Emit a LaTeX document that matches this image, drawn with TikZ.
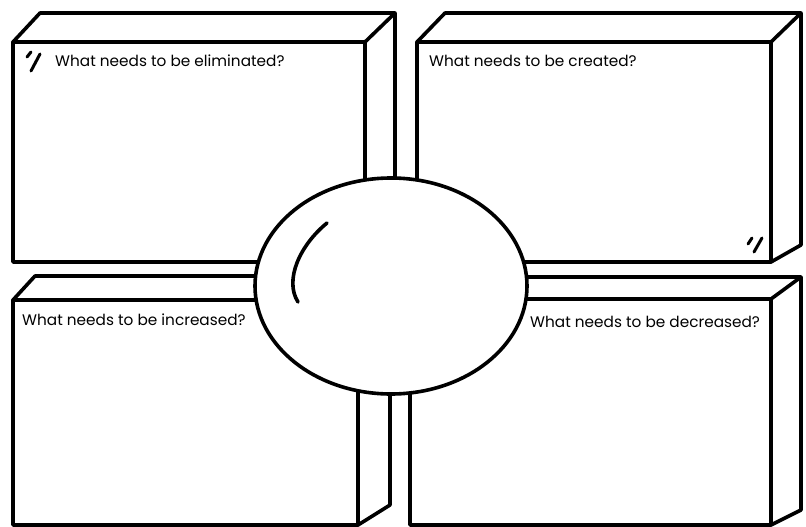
\documentclass[tikz,border=0pt]{standalone}
\usepackage{fontspec}
\setmainfont{Poppins}
\usetikzlibrary{positioning}

\tikzset{
    face/.style={line width=3.6pt, line join=round, line cap=round},
    slab/.style={face, fill=white},
    question/.style={font=\fontsize{15.3}{17}\selectfont, inner sep=0pt, anchor=west},
    tick/.style={line width=3pt, line cap=round},
}

\begin{document}
\begin{tikzpicture}[x=1pt, y=-1pt]
    \useasboundingbox (0,0) rectangle (806,527);

    % front corners of the four slabs
    \coordinate (elimA) at (13,42);   \coordinate (elimB) at (365,42);
    \coordinate (elimC) at (365,262); \coordinate (elimD) at (13,262);
    \coordinate (creaA) at (417,42);  \coordinate (creaB) at (771,42);
    \coordinate (creaC) at (771,262); \coordinate (creaD) at (417,262);
    \coordinate (incrA) at (13,300);  \coordinate (incrB) at (358,300);
    \coordinate (incrC) at (358,525); \coordinate (incrD) at (13,525);
    \coordinate (decrA) at (410,299); \coordinate (decrB) at (771,299);
    \coordinate (decrC) at (771,525); \coordinate (decrD) at (410,525);

    % slab: eliminated
    \draw[slab] (elimA) -- (40,13) -- (395,13) -- (395,250) -- (elimC) -- (elimD) -- cycle;
    \draw[face] (elimA) -- (elimB) -- (elimC) (elimB) -- (395,13);

    % slab: created
    \draw[slab] (creaA) -- (445,13) -- (801,13) -- (801,245) -- (creaC) -- (creaD) -- cycle;
    \draw[face] (creaA) -- (creaB) -- (creaC) (creaB) -- (801,13);

    % slab: increased
    \draw[slab] (incrA) -- (35,276) -- (390,276) -- (390,505) -- (incrC) -- (incrD) -- cycle;
    \draw[face] (incrA) -- (incrB) -- (incrC) (incrB) -- (390,276);

    % slab: decreased
    \draw[slab] (decrA) -- (440,277) -- (801,277) -- (801,510) -- (decrC) -- (decrD) -- cycle;
    \draw[face] (decrA) -- (decrB) -- (decrC) (decrB) -- (801,277);

    % centre bubble
    \draw[slab] (391,286) ellipse [x radius=136, y radius=108];
    \draw[face] (327,223) .. controls (300,245) and (284,280) .. (298,302);

    % small marks
    \draw[tick] (31,52) -- (27,57) (40,54) -- (31,71);
    \draw[tick] (752,238) -- (748,244) (762,238) -- (754,252);

    \node[question] (elim) at (55,61) {What needs to be eliminated?};
    \node[question] (crea) at (429,61) {What needs to be created?};
    \node[question] (incr) at (22,320) {What needs to be increased?};
    \node[question] (decr) at (530,322) {What needs to be decreased?};
\end{tikzpicture}
\end{document}
